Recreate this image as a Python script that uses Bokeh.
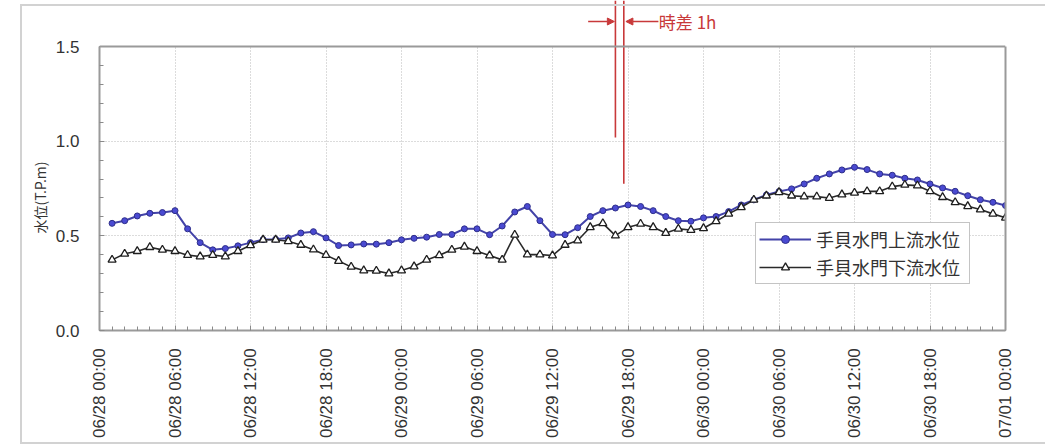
import math
import pandas as pd
from bokeh.plotting import figure
from bokeh.models import (Range1d, FixedTicker, DatetimeTickFormatter, Legend, LegendItem,
                          Arrow, NormalHead, NumeralTickFormatter, InlineStyleSheet,
                          LinearAxis, Span, BoxAnnotation, Title)
from bokeh.core.properties import value
from bokeh.embed import file_html
from bokeh.resources import INLINE

# ---------------- data ----------------
start_time = "2023-06-28 01:00"
n_hours = 72
series_names = ["手貝水門上流水位", "手貝水門下流水位"]
upstream = [0.566, 0.580, 0.605, 0.619, 0.623, 0.633, 0.537, 0.464, 0.426, 0.433, 0.447, 0.464,
            0.480, 0.482, 0.489, 0.515, 0.522, 0.489, 0.449, 0.452, 0.457, 0.456, 0.464, 0.479,
            0.487, 0.493, 0.507, 0.507, 0.537, 0.537, 0.506, 0.552, 0.626, 0.655, 0.580, 0.507,
            0.506, 0.543, 0.602, 0.633, 0.647, 0.663, 0.655, 0.633, 0.602, 0.580, 0.577, 0.595,
            0.602, 0.628, 0.663, 0.690, 0.716, 0.734, 0.748, 0.774, 0.804, 0.827, 0.848, 0.862,
            0.850, 0.827, 0.820, 0.804, 0.795, 0.774, 0.753, 0.735, 0.712, 0.691, 0.677, 0.660]
downstream = [0.373, 0.405, 0.419, 0.440, 0.426, 0.419, 0.398, 0.391, 0.398, 0.391, 0.419, 0.450,
              0.479, 0.479, 0.471, 0.452, 0.427, 0.398, 0.367, 0.336, 0.317, 0.315, 0.301, 0.317,
              0.338, 0.373, 0.397, 0.426, 0.442, 0.419, 0.396, 0.373, 0.505, 0.401, 0.401, 0.396,
              0.452, 0.475, 0.545, 0.566, 0.501, 0.545, 0.563, 0.545, 0.515, 0.537, 0.531, 0.540,
              0.577, 0.616, 0.651, 0.690, 0.712, 0.730, 0.712, 0.707, 0.707, 0.700, 0.718, 0.727,
              0.735, 0.735, 0.760, 0.769, 0.765, 0.735, 0.704, 0.677, 0.656, 0.639, 0.616, 0.595]
x_start = "2023-06-28 00:00"
x_end = "2023-07-01 00:00"
y_ticks = [0.0, 0.5, 1.0, 1.5]
y_label = "水位(T.P.m)"
lag_text = "時差 1h"
lag_line_times = ["2023-06-29 17:00", "2023-06-29 17:40"]
lag_line_bottoms = [1.02, 0.775]
lag_arrow_right_to = ["2023-06-29 14:50", "2023-06-29 16:55"]
lag_arrow_left_to = ["2023-06-29 20:25", "2023-06-29 17:50"]
lag_text_time = "2023-06-29 20:27"
lag_level = 1.632

times = pd.date_range(start_time, periods=n_hours, freq="h")
t0 = pd.Timestamp(x_start)
t1 = pd.Timestamp(x_end)

def ms(t):
    return pd.Timestamp(t).value / 1e6

major_ticks = [ms(t) for t in pd.date_range(t0, t1, freq="6h")]
minor_ticks = [ms(t) for t in pd.date_range(t0, t1, freq="h")]

red = "#c8393a"
frame_gray = "#9a9a9a"
y_min, y_max = 0.0, 1.5
y_view_top = 1.743   # headroom above the plot area for the lag annotation

# ---------------- figure ----------------
p = figure(width=1045, height=445, x_axis_type="datetime",
           x_range=Range1d(t0, t1), y_range=Range1d(y_min, y_view_top),
           output_backend="svg", toolbar_location=None,
           min_border_left=99, min_border_right=40, min_border_top=0, min_border_bottom=115)
p.background_fill_color = "white"
p.border_fill_color = "white"
p.outline_line_color = None

tick_font = "Liberation Sans"
for ax in (p.xaxis[0], p.yaxis[0]):
    ax.axis_line_color = frame_gray
    ax.axis_line_width = 2
    ax.major_tick_in = 5
    ax.major_tick_out = 0
    ax.minor_tick_in = 4
    ax.minor_tick_out = 0
    ax.major_tick_line_color = "#8a8a8a"
    ax.minor_tick_line_color = "#8a8a8a"
    ax.major_label_text_font = tick_font
    ax.major_label_text_font_size = "17px"
    ax.major_label_text_color = "#333333"

p.xaxis.ticker = FixedTicker(ticks=major_ticks, minor_ticks=minor_ticks)
fmt = "%m/%d  %H:%M"
p.xaxis.formatter = DatetimeTickFormatter(microseconds=fmt, milliseconds=fmt, seconds=fmt,
                                          minsec=fmt, minutes=fmt, hourmin=fmt, hours=fmt,
                                          days=fmt, months=fmt, years=fmt)
p.xaxis.major_label_orientation = math.pi / 2
p.xaxis.major_label_standoff = 13

p.yaxis.bounds = (y_min, y_max)
p.yaxis.ticker = FixedTicker(ticks=y_ticks, minor_ticks=[round(0.1 * k, 1) for k in range(16)])
p.yaxis.formatter = NumeralTickFormatter(format="0.0")
p.yaxis.major_label_standoff = 20

# y-axis title, positioned along the plot area like the original
p.add_layout(Title(text=y_label, align="left", offset=97, standoff=5,
                   text_font="Noto Sans CJK JP", text_font_size="14px",
                   text_font_style="normal", text_color="#333333"), "left")

# right edge of the plot area
right_axis = LinearAxis(bounds=(y_min, y_max), ticker=FixedTicker(ticks=[]),
                        axis_line_color=frame_gray, axis_line_width=2,
                        major_tick_line_color=None, minor_tick_line_color=None,
                        major_label_text_alpha=0)
p.add_layout(right_axis, "right")

for g in (p.xgrid[0], p.ygrid[0]):
    g.grid_line_color = "#b8b8b8"
    g.grid_line_dash = "1 2"
    g.grid_line_width = 1
p.xgrid.ticker = FixedTicker(ticks=major_ticks)
p.ygrid.ticker = FixedTicker(ticks=y_ticks)

# blank the headroom above the plot area (hides grid there) and draw its top edge
p.add_layout(BoxAnnotation(bottom=y_max, fill_color="white", fill_alpha=1.0,
                           line_color=None, level="underlay"))
p.add_layout(Span(location=y_max, dimension="width", line_color=frame_gray, line_width=2))

# ---------------- series ----------------
blue = "#4343a8"
l1 = p.line(times, upstream, line_color=blue, line_width=2)
c1 = p.scatter(times, upstream, marker="circle", size=6, fill_color="#4a4ad2", line_color="#2e2e8a")
l2 = p.line(times, downstream, line_color="#2a2a2a", line_width=1.6)
c2 = p.scatter(times, downstream, marker="triangle", size=8, fill_color="white",
               line_color="#1e1e1e", line_width=1.3)

legend = Legend(items=[LegendItem(label=series_names[0], renderers=[l1, c1]),
                       LegendItem(label=series_names[1], renderers=[l2, c2])],
                location=(656, 46), orientation="vertical",
                padding=3, spacing=2, margin=0,
                glyph_width=52, glyph_height=20, label_height=20, label_width=150,
                label_standoff=5,
                label_text_font="Noto Sans CJK JP", label_text_font_size="18px",
                label_text_color="#333333",
                border_line_color="#8a8a8a", border_line_width=1.5,
                background_fill_color="white", background_fill_alpha=1.0)
p.add_layout(legend)

# ---------------- lag annotation ----------------
p.segment(x0=[ms(t) for t in lag_line_times], y0=[y_view_top] * 2,
          x1=[ms(t) for t in lag_line_times], y1=lag_line_bottoms,
          line_color=red, line_width=1.6)
for a, b in (lag_arrow_right_to, lag_arrow_left_to):
    p.add_layout(Arrow(end=NormalHead(size=7, fill_color=red, line_color=red, line_width=1),
                       x_start=ms(a), y_start=lag_level, x_end=ms(b), y_end=lag_level,
                       line_color=red, line_width=1.6))
p.text(x=[ms(lag_text_time)], y=[lag_level], text=[lag_text],
       text_font=value("Noto Sans CJK JP"), text_font_size=value("17px"),
       text_color=red, text_baseline="middle", text_align="left")

# light outer chart frame
p.stylesheets = [InlineStyleSheet(css="""
:host { position: relative; }
:host::after { content: ""; position: absolute; left: 20px; top: 4px; right: 0px; bottom: 1px;
  border: 2px solid #d2d2d2; border-right: none; pointer-events: none; box-sizing: border-box; }
""")]

open("out.html", "w").write(file_html(p, INLINE))
